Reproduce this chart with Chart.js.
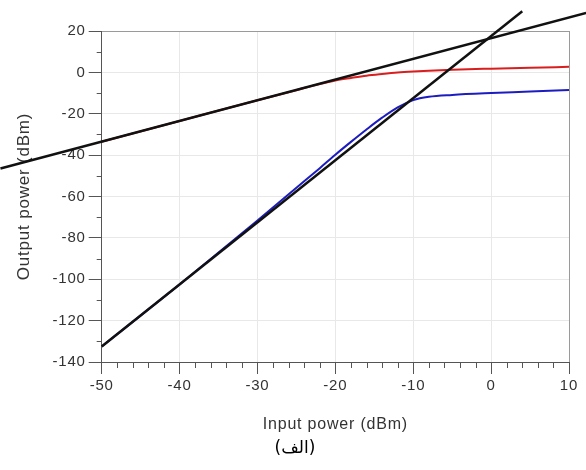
<!DOCTYPE html>
<html>
<head>
<meta charset="utf-8">
<script src="https://cdn.jsdelivr.net/npm/chart.js@4.4.1/dist/chart.umd.min.js"></script>
<style>
    html, body { margin: 0; padding: 0; background: #fff; }
    #wrap { position: relative; width: 586px; height: 470px; }
    #caption {
        position: absolute;
        left: 245px;
        top: 437px;
        width: 100px;
        text-align: center;
        font-family: "DejaVu Sans", sans-serif;
        font-size: 17px;
        color: #000;
    }
</style>
</head>
<body>
<div id="wrap">
    <canvas id="ip3Chart" width="586" height="470"></canvas>
    <div id="caption" dir="rtl">(الف)</div>
</div>
<script>
// Puissance d'entrée (dBm) pour les deux courbes mesurées
const inputPower = [-50, -40, -30, -25, -22, -20, -18, -16, -14, -12, -10, -8, -5, 0, 5, 10];
// Fondamentale (rouge)
const fundamentalOut = [-33.5, -23.5, -13.5, -8.6, -5.6, -3.9, -2.7, -1.6, -0.8, -0.1, 0.4, 0.8, 1.3, 1.8, 2.2, 2.7];
// Produit d'intermodulation d'ordre 3 (bleu)
const imd3Out = [-132.5, -102.5, -71.6, -55.8, -46.3, -39.8, -33.6, -27.6, -21.9, -16.9, -13.4, -11.8, -10.9, -10, -9.3, -8.5];

// Droites d'extrapolation (extrémités)
const gainLineX = [-63, 12.2];
const gainLineY = [-46.5, 28.7];
const imdLineX = [-50, 4];
const imdLineY = [-132.5, 29.5];

const xTicks = [-50, -40, -30, -20, -10, 0, 10];
const yTicks = [20, 0, -20, -40, -60, -80, -100, -120, -140];

const toPoints = (xs, ys) => xs.map((x, i) => ({ x: x, y: ys[i] }));

const FONT = "'Liberation Sans', Arial, sans-serif";

// petites graduations entre les graduations principales
const minorTicks = {
    id: "minorTicks",
    afterDraw(chart) {
        const { ctx, chartArea, scales } = chart;
        const x = scales.x, y = scales.y;
        ctx.save();
        ctx.strokeStyle = "#555";
        ctx.lineWidth = 1;
        ctx.beginPath();
        for (let v = x.min; v <= x.max; v += 2) {
            if (v % 10 === 0) continue;
            const px = Math.round(x.getPixelForValue(v)) + 0.5;
            ctx.moveTo(px, chartArea.bottom);
            ctx.lineTo(px, chartArea.bottom + 6);
        }
        for (let v = y.min + 10; v < y.max; v += 20) {
            const py = Math.round(y.getPixelForValue(v)) + 0.5;
            ctx.moveTo(chartArea.left, py);
            ctx.lineTo(chartArea.left - 5, py);
        }
        ctx.stroke();
        ctx.restore();
    },
};

// espacement des lettres pour les textes du graphique
const spacedText = {
    id: "spacedText",
    beforeDraw(chart) { chart.ctx.letterSpacing = "0.8px"; },
    afterDraw(chart) { chart.ctx.letterSpacing = "0px"; },
};

const gridColor = (edgeValue, edgeColor) => (c) =>
    c.tick && c.tick.value === edgeValue ? edgeColor : "#e8e8e8";

const canvas = document.getElementById("ip3Chart");
new Chart(canvas.getContext("2d"), {
    type: "line",
    data: {
        datasets: [
            {
                data: toPoints(gainLineX, gainLineY),
                borderColor: "#111",
                borderWidth: 2.5,
                pointRadius: 0,
                clip: false,
            },
            {
                data: toPoints(imdLineX, imdLineY),
                borderColor: "#111",
                borderWidth: 2.5,
                pointRadius: 0,
                clip: false,
            },
            {
                data: toPoints(inputPower, fundamentalOut),
                borderColor: "#d81e1e",
                borderWidth: 2,
                pointRadius: 0,
                cubicInterpolationMode: "monotone",
            },
            {
                data: toPoints(inputPower, imd3Out),
                borderColor: "#1c1cc0",
                borderWidth: 2,
                pointRadius: 0,
                cubicInterpolationMode: "monotone",
            },
        ],
    },
    options: {
        responsive: false,
        animation: false,
        layout: { padding: { top: 31, right: 17, left: 0, bottom: 0 } },
        plugins: {
            legend: { display: false },
            tooltip: { enabled: false },
        },
        scales: {
            x: {
                type: "linear",
                min: -50,
                max: 10,
                afterFit: (s) => { s.height = 108; },
                afterBuildTicks: (s) => { s.ticks = xTicks.map((v) => ({ value: v })); },
                ticks: {
                    color: "#333",
                    font: { family: FONT, size: 15 },
                    padding: 3,
                    maxRotation: 0,
                },
                grid: {
                    color: gridColor(10, "#9a9a9a"),
                    tickColor: "#555",
                    tickLength: 12,
                },
                border: { color: "#555" },
                title: {
                    display: true,
                    text: "Input power (dBm)",
                    color: "#333",
                    font: { family: FONT, size: 16 },
                    padding: { top: 4, bottom: 36 },
                },
            },
            y: {
                min: -140,
                max: 20,
                afterFit: (s) => { s.width = 101.7; },
                afterBuildTicks: (s) => { s.ticks = yTicks.map((v) => ({ value: v })); },
                ticks: {
                    color: "#333",
                    font: { family: FONT, size: 15 },
                    padding: 3,
                },
                grid: {
                    color: gridColor(20, "#9a9a9a"),
                    tickColor: "#555",
                    tickLength: 13,
                },
                border: { color: "#555" },
                title: {
                    display: true,
                    text: "Output power (dBm)",
                    color: "#333",
                    font: { family: FONT, size: 17 },
                    padding: { top: 14, bottom: 0 },
                },
            },
        },
    },
    plugins: [minorTicks, spacedText],
});
</script>
</body>
</html>
